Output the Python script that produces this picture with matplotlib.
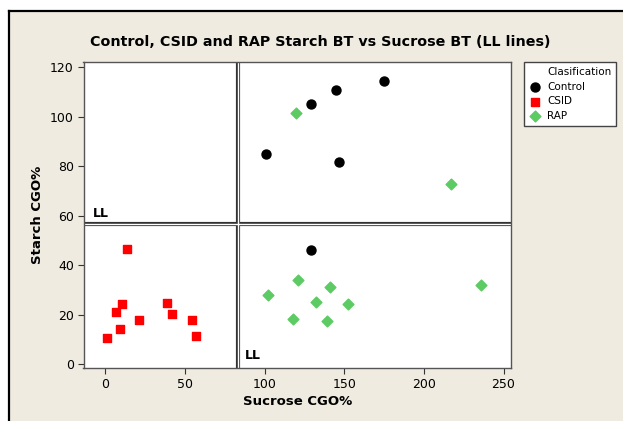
import matplotlib
matplotlib.use("Agg")
import matplotlib.pyplot as plt
from matplotlib.patches import Rectangle
from matplotlib.lines import Line2D

# -------------------------------------------------------
# DATA
# -------------------------------------------------------
control_x = [101, 129, 145, 175, 147, 129]
control_y = [85, 105.3, 111, 114.5, 81.7, 46.2]

csid_x = [14.0, 10.4, 6.5, 9.0, 1.0, 21.3, 39.1, 41.8, 54.8, 56.9]
csid_y = [46.5, 24.2, 21.1, 14.4, 10.6, 18.0, 24.9, 20.2, 18.0, 11.4]

rap_x = [120.0, 217.3, 102.5, 121.3, 141.0, 132.4, 152.6, 117.9, 139.1, 235.7]
rap_y = [101.7, 73.0, 28.0, 33.9, 31.1, 25.0, 24.5, 18.4, 17.4, 32.0]

ll_sucrose = 83.5
ll_starch = 56.5

xticks = [0, 50, 100, 150, 200, 250]
yticks = [0, 20, 40, 60, 80, 100, 120]

BEIGE = "#EFEBE1"
GREEN = "#5DCB63"

# -------------------------------------------------------
# FIGURE
# -------------------------------------------------------
fig = plt.figure(figsize=(6.23, 4.21), dpi=100)
fig.patch.set_facecolor("white")

# beige panel with frame lines on top and left
fig.add_artist(Rectangle((9 / 623, 0), 1, 1 - 11 / 421, transform=fig.transFigure,
                         facecolor=BEIGE, edgecolor="none", zorder=-10))
fig.add_artist(Line2D([9 / 623, 1], [1 - 11 / 421, 1 - 11 / 421],
                      transform=fig.transFigure, color="black", lw=1.6))
fig.add_artist(Line2D([9 / 623, 9 / 623], [0, 1 - 11 / 421],
                      transform=fig.transFigure, color="black", lw=1.6))

ax = fig.add_axes([83.5 / 623, 1 - 368 / 421, (511 - 83.5) / 623, (368 - 61.7) / 421])
ax.set_facecolor("white")

h1 = ax.scatter(control_x, control_y, s=42, marker="o", color="black", label="Control", zorder=3)
h2 = ax.scatter(csid_x, csid_y, s=34, marker="s", color="#FF0000", label="CSID", zorder=3)
h3 = ax.scatter(rap_x, rap_y, s=30, marker="D", color=GREEN, label="RAP", zorder=3)

# double "LL" reference lines
for lw, c in [(3.0, "#333333"), (1.0, "white")]:
    ax.axvline(ll_sucrose, color=c, lw=lw, zorder=2)
    ax.axhline(ll_starch, color=c, lw=lw, zorder=2)

ax.text(-7.5, 58.5, "LL", fontsize=9, fontweight="bold", ha="left", va="bottom")
ax.text(87.5, 1.0, "LL", fontsize=9, fontweight="bold", ha="left", va="bottom")

ax.set_xlim(-13.6, 254.7)
ax.set_ylim(-1.5, 122.3)
ax.set_xticks(xticks)
ax.set_yticks(yticks)
ax.tick_params(labelsize=9, length=4, width=0.8, color="#333333", pad=3)

for sp in ax.spines.values():
    sp.set_color("#555555")
    sp.set_linewidth(1.0)

fig.text(320 / 623, 1 - 42 / 421, "Control, CSID and RAP Starch BT vs Sucrose BT (LL lines)",
         fontsize=10.3, fontweight="bold", ha="center", va="center")
ax.set_xlabel("Sucrose CGO%", fontsize=9.5, fontweight="bold", labelpad=3)
ax.set_ylabel("Starch CGO%", fontsize=9.5, fontweight="bold", labelpad=4)

# legend title written as a blank entry so it lines up with the labels
blank = Line2D([], [], linestyle="none", marker=None)
leg = ax.legend([blank, h1, h2, h3], ["Clasification", "Control", "CSID", "RAP"],
                loc="upper left", bbox_to_anchor=((524 - 83.5) / 427.5, 1.0),
                fontsize=7.5, frameon=True, fancybox=False, framealpha=1,
                borderpad=0.5, handletextpad=0.5, labelspacing=0.45,
                handlelength=1.2, borderaxespad=0)
leg.get_frame().set_edgecolor("#444444")
leg.get_frame().set_linewidth(1.0)
leg.get_frame().set_facecolor("white")

fig.savefig("out.png", dpi=100, facecolor=fig.get_facecolor())
